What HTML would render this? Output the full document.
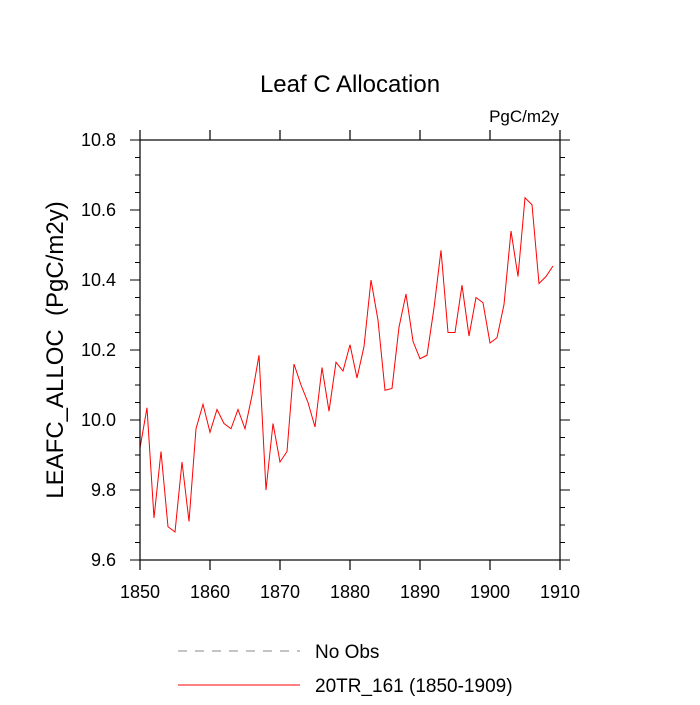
<!DOCTYPE html>
<html><head><meta charset="utf-8"><style>
body{margin:0;background:#fff}
svg text{font-family:"Liberation Sans",sans-serif;fill:#000}
</style></head><body>
<svg id="chart" width="700" height="700" viewBox="0 0 700 700">
<rect width="700" height="700" fill="#fff"/>
<text x="350" y="92" font-size="24" text-anchor="middle">Leaf C Allocation</text>
<text x="559" y="122" font-size="17" text-anchor="end">PgC/m2y</text>
<text transform="translate(63,350) rotate(-90)" font-size="24" text-anchor="middle">LEAFC_ALLOC &#160;(PgC/m2y)</text>
<g id="axes"></g>
<polyline id="series" fill="none" stroke="#f00" stroke-width="1"/>
<rect x="140" y="140" width="420" height="420" fill="none" stroke="#000" stroke-width="1.2"/>
<line x1="178" y1="651" x2="300" y2="651" stroke="#888" stroke-dasharray="9,8"/>
<text x="315" y="658" font-size="19">No Obs</text>
<line x1="178" y1="685" x2="300" y2="685" stroke="#f00"/>
<text x="315" y="692" font-size="19">20TR_161 (1850-1909)</text>
</svg>
<script>
const years=[1850,1851,1852,1853,1854,1855,1856,1857,1858,1859,1860,1861,1862,1863,1864,1865,1866,1867,1868,1869,1870,1871,1872,1873,1874,1875,1876,1877,1878,1879,1880,1881,1882,1883,1884,1885,1886,1887,1888,1889,1890,1891,1892,1893,1894,1895,1896,1897,1898,1899,1900,1901,1902,1903,1904,1905,1906,1907,1908,1909];
const values=[9.92,10.035,9.72,9.91,9.695,9.68,9.88,9.71,9.975,10.045,9.965,10.03,9.99,9.975,10.03,9.975,10.07,10.185,9.80,9.99,9.88,9.91,10.16,10.10,10.05,9.98,10.15,10.025,10.165,10.14,10.215,10.12,10.21,10.40,10.285,10.085,10.09,10.265,10.36,10.225,10.175,10.185,10.32,10.485,10.25,10.25,10.385,10.24,10.35,10.335,10.22,10.235,10.33,10.54,10.41,10.635,10.615,10.39,10.41,10.44];
const xTicks=[1850,1860,1870,1880,1890,1900,1910];
const yTicks=[9.6,9.8,10.0,10.2,10.4,10.6,10.8];
const X=v=>140+(v-1850)*7;
const Y=v=>560-(v-9.6)*350;
const NS="http://www.w3.org/2000/svg";
const ax=document.getElementById('axes');
function ln(x1,y1,x2,y2,w){const l=document.createElementNS(NS,'line');l.setAttribute('x1',x1);l.setAttribute('y1',y1);l.setAttribute('x2',x2);l.setAttribute('y2',y2);l.setAttribute('stroke','#000');l.setAttribute('stroke-width',w);ax.appendChild(l);return l;}
xTicks.forEach(t=>{
  const a=ln(X(t),560,X(t),570,1.2);
  
  
  const b=ln(X(t),140,X(t),130,1.2);
  
  
  const tx=document.createElementNS(NS,'text');
  tx.setAttribute('x',X(t));tx.setAttribute('y',598);tx.setAttribute('font-size','18');tx.setAttribute('text-anchor','middle');
  tx.textContent=t;
  
  
  ax.appendChild(tx);
});
for(let v=9.6;v<=10.801;v+=0.05){
  const major=Math.abs(v*5-Math.round(v*5))<1e-6;
  const len=major?10:5;
  const a=ln(140,Y(v),140-len,Y(v),1);
  
  
  const b=ln(560,Y(v),560+len,Y(v),1);
  
  
}
yTicks.forEach(t=>{
  const tx=document.createElementNS(NS,'text');
  tx.setAttribute('x',116);tx.setAttribute('y',Y(t)+6);tx.setAttribute('font-size','18');tx.setAttribute('text-anchor','end');
  tx.textContent=t.toFixed(1);
  
  
  ax.appendChild(tx);
});
document.getElementById('series').setAttribute('points',years.map((y,i)=>X(y)+','+Y(values[i])).join(' '));
</script>
</body></html>
